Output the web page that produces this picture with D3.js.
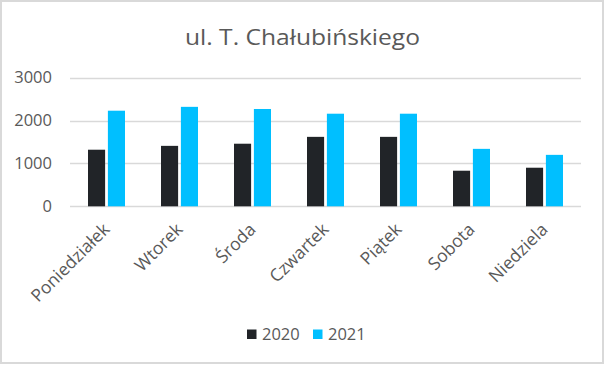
<!DOCTYPE html>
<html><head><meta charset="utf-8">
<script src="https://cdn.jsdelivr.net/npm/d3@7"></script>
<style>
html,body{margin:0;padding:0;background:#fff;}
svg{display:block;}
text{font-family:"Open Sans","Noto Sans",sans-serif;fill:#595959;}
</style></head>
<body>
<svg id="chart" width="605" height="365"></svg>
<script>
const title = "ul. T. Chałubińskiego";
const categories = ["Poniedziałek","Wtorek","Środa","Czwartek","Piątek","Sobota","Niedziela"];
const seriesNames = ["2020","2021"];
const values2020 = [1320,1410,1460,1620,1620,830,900];
const values2021 = [2230,2320,2270,2160,2160,1340,1200];
const yTicks = [0,1000,2000,3000];
const colors = ["#212428","#00BFFF"];

const svg = d3.select("#chart");
svg.append("rect").attr("x",1).attr("y",1).attr("width",602).attr("height",362)
  .attr("fill","#fff").attr("stroke","#d9d9d9").attr("stroke-width",2);

const pLeft = 70, pRight = 581, pTop = 77.7, pBottom = 206.3;
const x = d3.scaleBand().domain(categories).range([pLeft,pRight]);
const y = d3.scaleLinear().domain([0,3000]).range([pBottom,pTop]);
const x1 = d3.scaleBand().domain(seriesNames).range([0,37]).paddingInner(0.14);

// gridlines
svg.append("g").selectAll("line").data(yTicks).join("line")
  .attr("x1",pLeft).attr("x2",pRight)
  .attr("y1",d=>Math.round(y(d))+0.5).attr("y2",d=>Math.round(y(d))+0.5)
  .attr("stroke","#d9d9d9").attr("stroke-width",1.5);

// y axis labels
const yAxis = d3.axisLeft(y).tickValues(yTicks).tickSize(0).tickPadding(0).tickFormat(d3.format("d"));
const ga = svg.append("g").attr("transform","translate(52,0)").call(yAxis);
ga.select(".domain").remove();
ga.selectAll("text").attr("font-size","16.5px").attr("fill","#595959")
  .style("font-family","'Open Sans','Noto Sans',sans-serif");

// bars
const data = categories.map((c,i)=>({cat:c, vals:[values2020[i],values2021[i]]}));
const groups = svg.append("g").selectAll("g").data(data).join("g")
  .attr("transform",d=>`translate(${x(d.cat)+x.bandwidth()/2-18.5},0)`);
groups.selectAll("rect").data(d=>d.vals.map((v,j)=>({key:seriesNames[j],v,j}))).join("rect")
  .attr("x",d=>x1(d.key)).attr("width",x1.bandwidth())
  .attr("y",d=>y(d.v)).attr("height",d=>pBottom-y(d.v))
  .attr("fill",d=>colors[d.j]);

// category labels
const xAxis = d3.axisBottom(x).tickSize(0).tickPadding(0);
const gx = svg.append("g").attr("transform",`translate(0,${pBottom})`).call(xAxis);
gx.select(".domain").remove();
gx.selectAll("text")
  .attr("font-size","17.5px").attr("fill","#595959")
  .style("font-family","'Open Sans','Noto Sans',sans-serif")
  .attr("text-anchor","end").attr("dy",null).attr("y",null)
  .attr("transform","translate(1,21) rotate(-45)")
  .attr("dominant-baseline","middle");

// title
svg.append("text").attr("x",302.5).attr("y",44.5).attr("text-anchor","middle")
  .attr("font-size","22px").attr("fill","#595959")
  .attr("textLength",235).attr("lengthAdjust","spacingAndGlyphs").text(title);

// legend
const leg = svg.append("g");
const legX = [247, 313];
seriesNames.forEach((s,i)=>{
  leg.append("rect").attr("x",legX[i]).attr("y",329.5).attr("width",9.5).attr("height",9.5).attr("fill",colors[i]);
  leg.append("text").attr("x",legX[i]+15).attr("y",339.5).attr("font-size","16.5px").attr("fill","#595959").text(s);
});
</script>
</body></html>
